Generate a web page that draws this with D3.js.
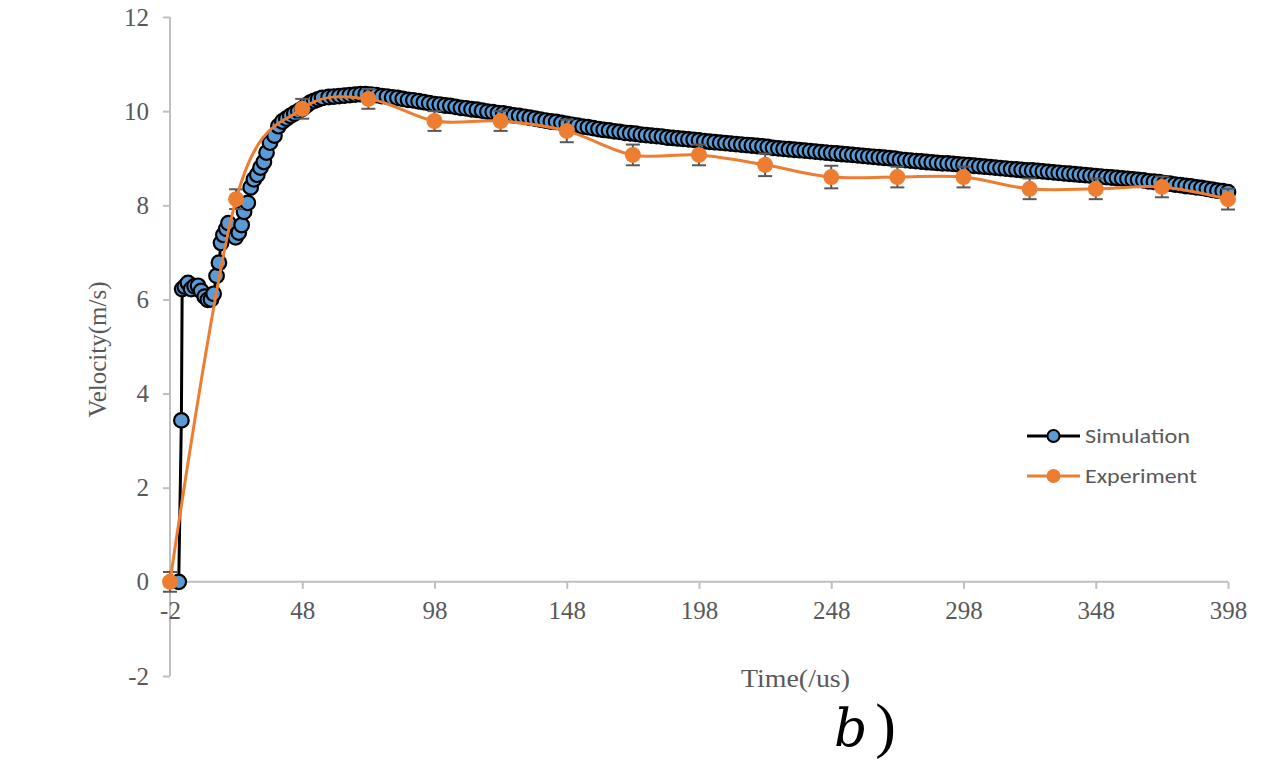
<!DOCTYPE html>
<html>
<head>
<meta charset="utf-8">
<script src="https://cdn.jsdelivr.net/npm/d3@7/dist/d3.min.js"></script>
<style>
  html, body { margin: 0; padding: 0; background: #fff; }
  svg { display: block; }
</style>
</head>
<body>
<svg id="chart" width="1279" height="781"></svg>
<script>
// Simulated velocity history (time in us, velocity in m/s)
const simTime = [
  1.3, 2.3, 2.6, 3.6, 4.8, 6.0, 7.3, 8.6, 9.8, 11.1, 12.3, 13.5, 14.5, 15.6, 16.5,
  17.3, 18.2, 19.3, 20.1, 22.8, 24.0, 25.1, 26.0, 27.4, 28.5, 29.7, 31.0, 32.2, 33.5,
  34.5, 35.8, 37.5, 39.0, 40.5, 42.0, 43.5, 45.0, 46.5, 48.0, 49.5, 51.0, 52.5, 54.0,
  55.5, 58, 60, 62, 64, 66, 68, 70, 72, 74, 76, 78, 80, 82, 84, 86, 88, 90, 92, 94, 96, 98,
  100, 102, 104, 106, 108, 110, 112, 114, 116, 118, 120, 122, 124, 126, 128, 130, 132, 134, 136, 138,
  140, 142, 144, 146, 148, 150, 152, 154, 156, 158, 160, 162, 164, 166, 168, 170, 172, 174, 176, 178,
  180, 182, 184, 186, 188, 190, 192, 194, 196, 198, 200, 202, 204, 206, 208, 210, 212, 214, 216, 218,
  220, 222, 224, 226, 228, 230, 232, 234, 236, 238, 240, 242, 244, 246, 248, 250, 252, 254, 256, 258,
  260, 262, 264, 266, 268, 270, 272, 274, 276, 278, 280, 282, 284, 286, 288, 290, 292, 294, 296, 298,
  300, 302, 304, 306, 308, 310, 312, 314, 316, 318, 320, 322, 324, 326, 328, 330, 332, 334, 336, 338,
  340, 342, 344, 346, 348, 350, 352, 354, 356, 358, 360, 362, 364, 366, 368, 370, 372, 374, 376, 378,
  380, 382, 384, 386, 388, 390, 392, 394, 396, 398
];
const simVelocity = [
  0, 3.43, 6.22, 6.27, 6.35, 6.22, 6.28, 6.29, 6.18, 6.06, 5.99, 6.0, 6.12, 6.5, 6.78,
  7.2, 7.37, 7.5, 7.62, 7.32, 7.42, 7.58, 7.86, 8.05, 8.38, 8.55, 8.65, 8.8, 8.92,
  9.12, 9.33, 9.48, 9.68, 9.78, 9.84, 9.9, 9.95, 10.0, 10.05, 10.12, 10.18, 10.22, 10.25,
  10.28, 10.30, 10.31, 10.32, 10.33, 10.34, 10.35, 10.36, 10.36, 10.35, 10.34, 10.32, 10.31, 10.29, 10.28, 10.26, 10.24, 10.23, 10.21, 10.19, 10.17, 10.15,
  10.14, 10.12, 10.11, 10.09, 10.07, 10.06, 10.04, 10.03, 10.01, 9.99, 9.98, 9.96, 9.95, 9.93, 9.91, 9.90, 9.88, 9.86, 9.84, 9.82,
  9.80, 9.78, 9.77, 9.75, 9.73, 9.71, 9.69, 9.67, 9.66, 9.64, 9.62, 9.60, 9.59, 9.57, 9.56, 9.54, 9.53, 9.52, 9.50, 9.49,
  9.48, 9.47, 9.46, 9.44, 9.43, 9.42, 9.41, 9.40, 9.39, 9.38, 9.36, 9.35, 9.34, 9.33, 9.32, 9.31, 9.30, 9.29, 9.28, 9.27,
  9.26, 9.25, 9.24, 9.22, 9.21, 9.20, 9.19, 9.18, 9.17, 9.16, 9.15, 9.14, 9.13, 9.12, 9.11, 9.10, 9.09, 9.08, 9.07, 9.06,
  9.05, 9.04, 9.03, 9.02, 9.01, 9.00, 8.99, 8.97, 8.96, 8.95, 8.94, 8.93, 8.92, 8.91, 8.90, 8.89, 8.89, 8.88, 8.87, 8.86,
  8.85, 8.84, 8.83, 8.82, 8.81, 8.80, 8.79, 8.78, 8.77, 8.76, 8.75, 8.74, 8.74, 8.73, 8.72, 8.71, 8.70, 8.69, 8.68, 8.67,
  8.66, 8.65, 8.64, 8.63, 8.62, 8.61, 8.60, 8.59, 8.58, 8.57, 8.56, 8.55, 8.54, 8.53, 8.51, 8.50, 8.49, 8.47, 8.46, 8.44,
  8.43, 8.41, 8.40, 8.38, 8.37, 8.35, 8.33, 8.31, 8.30, 8.28
];

// Measured velocity with error bars
const expTime = [-2, 23, 48, 73, 98, 123, 148, 173, 198, 223, 248, 273, 298, 323, 348, 373, 398];
const expVelocity = [0, 8.13, 10.05, 10.26, 9.79, 9.79, 9.58, 9.07, 9.07, 8.86, 8.6, 8.6, 8.6, 8.35, 8.35, 8.39, 8.13];
const expError = [0.21, 0.21, 0.21, 0.21, 0.21, 0.21, 0.24, 0.22, 0.22, 0.24, 0.24, 0.22, 0.22, 0.22, 0.22, 0.22, 0.22];

// Axis ticks
const xTicks = [-2, 48, 98, 148, 198, 248, 298, 348, 398];
const yTicks = [-2, 0, 2, 4, 6, 8, 10, 12];

const seriesNames = ["Simulation", "Experiment"];

const svg = d3.select("#chart");
const axisGrey = "#bfbfbf";
const labelGrey = "#595959";
const blue = "#5b9bd5";
const orange = "#ed7d31";
const serif = "'Liberation Serif', 'Times New Roman', serif";

const x = d3.scaleLinear().domain([-2, 398]).range([170, 1228]);
const y = d3.scaleLinear().domain([-2, 12]).range([676, 17]);

// Y axis (left)
const yAxis = svg.append("g")
  .attr("transform", `translate(${x(-2)},0)`)
  .call(d3.axisLeft(y).tickValues(yTicks).tickSize(7).tickPadding(14).tickFormat(d => String(d)));
// X axis at zero velocity
const xAxis = svg.append("g")
  .attr("transform", `translate(0,${y(0)})`)
  .call(d3.axisBottom(x).tickValues(xTicks).tickSize(7).tickPadding(12).tickFormat(d => String(d)));

[yAxis, xAxis].forEach(g => {
  g.attr("font-family", null).attr("font-size", null);
  g.select(".domain").attr("stroke", axisGrey).attr("stroke-width", 2);
  g.selectAll(".tick line").attr("stroke", axisGrey).attr("stroke-width", 2);
  g.selectAll(".tick text")
    .attr("fill", labelGrey)
    .style("font-family", serif)
    .style("font-size", "25px");
});
xAxis.select(".domain").attr("d", `M${x(-2)},0H${x(398)}`);
yAxis.select(".domain").attr("d", `M0,${y(12)}V${y(-2)}`);

// Axis titles
svg.append("text")
  .attr("transform", `translate(106,${(y(12) + y(-2)) / 2 + 3}) rotate(-90)`)
  .attr("text-anchor", "middle")
  .attr("fill", labelGrey)
  .style("font-family", serif)
  .style("font-size", "25px")
  .text("Velocity(m/s)");
svg.append("text")
  .attr("x", 741).attr("y", 687)
  .attr("textLength", 109)
  .attr("lengthAdjust", "spacingAndGlyphs")
  .attr("fill", labelGrey)
  .style("font-family", serif)
  .style("font-size", "25px")
  .text("Time(/us)");

// Simulation series
const simData = simTime.map((t, i) => ({ t, v: simVelocity[i] }));
const simLine = d3.line().x(d => x(d.t)).y(d => y(d.v));
svg.append("path")
  .datum(simData)
  .attr("d", simLine)
  .attr("fill", "none")
  .attr("stroke", "#000")
  .attr("stroke-width", 3)
  .attr("stroke-linejoin", "round");
svg.append("g").selectAll("circle")
  .data(simData)
  .join("circle")
  .attr("cx", d => x(d.t))
  .attr("cy", d => y(d.v))
  .attr("r", 7.3)
  .attr("fill", blue)
  .attr("stroke", "#000")
  .attr("stroke-width", 2.2);

// Experiment series
const expData = expTime.map((t, i) => ({ t, v: expVelocity[i], e: expError[i] }));
const bars = svg.append("g").attr("stroke", labelGrey).attr("stroke-width", 2);
expData.forEach(d => {
  const cx = x(d.t), top = y(d.v + d.e), bot = y(d.v - d.e);
  bars.append("line").attr("x1", cx).attr("x2", cx).attr("y1", top).attr("y2", bot);
  bars.append("line").attr("x1", cx - 7).attr("x2", cx + 7).attr("y1", top).attr("y2", top);
  bars.append("line").attr("x1", cx - 7).attr("x2", cx + 7).attr("y1", bot).attr("y2", bot);
});
const expLine = d3.line().x(d => x(d.t)).y(d => y(d.v)).curve(d3.curveCardinal.tension(0));
svg.append("path")
  .datum(expData)
  .attr("d", expLine)
  .attr("fill", "none")
  .attr("stroke", orange)
  .attr("stroke-width", 3);
svg.append("g").selectAll("circle")
  .data(expData)
  .join("circle")
  .attr("cx", d => x(d.t))
  .attr("cy", d => y(d.v))
  .attr("r", 8)
  .attr("fill", orange);

// Legend
const legendWidths = [105, 112];
const legend = svg.append("g").attr("transform", "translate(1027,436)");
seriesNames.forEach((name, i) => {
  const g = legend.append("g").attr("transform", `translate(0,${i * 40})`);
  g.append("line").attr("x1", 0).attr("x2", 53).attr("y1", 0).attr("y2", 0)
    .attr("stroke", i === 0 ? "#000" : orange).attr("stroke-width", 3);
  if (i === 0) {
    g.append("circle").attr("cx", 26.5).attr("cy", 0).attr("r", 6)
      .attr("fill", blue).attr("stroke", "#000").attr("stroke-width", 2);
  } else {
    g.append("circle").attr("cx", 26.5).attr("cy", 0).attr("r", 7).attr("fill", orange);
  }
  g.append("text").attr("x", 58).attr("y", 7)
    .attr("textLength", legendWidths[i])
    .attr("lengthAdjust", "spacingAndGlyphs")
    .attr("fill", labelGrey)
    .style("font-family", "Carlito, 'Open Sans', 'Liberation Sans', sans-serif")
    .style("font-size", "20px")
    .text(name);
});

// Panel label
const panel = svg.append("text")
  .attr("x", 834).attr("y", 746)
  .attr("fill", "#000")
  .style("font-family", "'DejaVu Serif', 'Liberation Serif', serif")
  .style("font-size", "52px");
panel.append("tspan").style("font-style", "italic").text("b");
panel.append("tspan").attr("dx", 8)
  .style("font-family", "'Liberation Serif', serif")
  .style("font-size", "62px")
  .text(")");
</script>
</body>
</html>
